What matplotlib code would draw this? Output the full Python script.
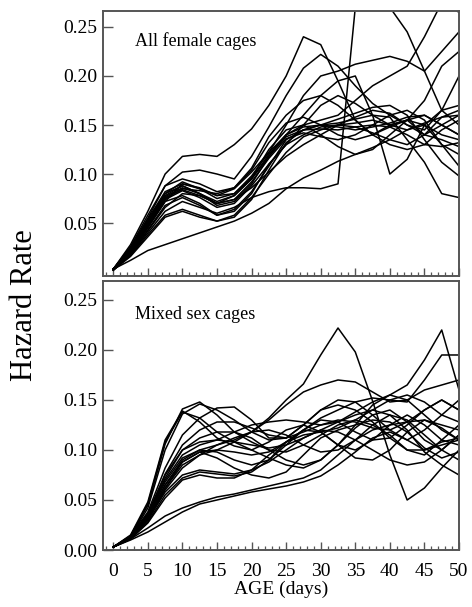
import matplotlib
matplotlib.use('Agg')
import matplotlib.pyplot as plt
from matplotlib.ticker import MultipleLocator

plt.rcParams['font.family'] = ['Liberation Serif', 'DejaVu Serif']

days = [0, 2.5, 5, 7.5, 10, 12.5, 15, 17.5, 20, 22.5, 25, 27.5, 30, 32.5, 35, 37.5, 40, 42.5, 45, 47.5, 50]

# All female cages
f01 = [0.003, 0.028, 0.062, 0.100, 0.118, 0.120, 0.118, 0.130, 0.146, 0.170, 0.200, 0.240, 0.232, 0.195, 0.155, 0.140, 0.148, 0.155, 0.140, 0.135, 0.128]
f02 = [0.002, 0.018, 0.040, 0.062, 0.072, 0.066, 0.060, 0.066, 0.076, 0.082, 0.086, 0.086, 0.085, 0.090, 0.270, 0.270, 0.270, 0.245, 0.205, 0.165, 0.150]
f03 = [0.003, 0.022, 0.050, 0.078, 0.088, 0.080, 0.072, 0.078, 0.095, 0.120, 0.140, 0.150, 0.155, 0.160, 0.175, 0.190, 0.200, 0.210, 0.240, 0.275, 0.265]
f04 = [0.003, 0.025, 0.055, 0.088, 0.102, 0.104, 0.100, 0.095, 0.118, 0.148, 0.180, 0.208, 0.222, 0.210, 0.190, 0.172, 0.160, 0.150, 0.145, 0.165, 0.200]
f05 = [0.003, 0.020, 0.045, 0.072, 0.090, 0.086, 0.078, 0.085, 0.102, 0.122, 0.150, 0.180, 0.200, 0.205, 0.212, 0.216, 0.220, 0.215, 0.205, 0.225, 0.245]
f06 = [0.003, 0.022, 0.050, 0.076, 0.084, 0.078, 0.070, 0.078, 0.095, 0.118, 0.140, 0.160, 0.180, 0.195, 0.200, 0.160, 0.100, 0.115, 0.150, 0.130, 0.120]
f07 = [0.003, 0.012, 0.022, 0.028, 0.034, 0.040, 0.046, 0.052, 0.060, 0.070, 0.085, 0.096, 0.104, 0.113, 0.120, 0.127, 0.135, 0.145, 0.152, 0.158, 0.160]
f08 = [0.003, 0.024, 0.052, 0.080, 0.092, 0.085, 0.075, 0.080, 0.098, 0.122, 0.140, 0.148, 0.150, 0.152, 0.156, 0.160, 0.158, 0.135, 0.112, 0.080, 0.076]
f09 = [0.003, 0.020, 0.046, 0.072, 0.078, 0.070, 0.058, 0.064, 0.082, 0.108, 0.135, 0.145, 0.150, 0.156, 0.162, 0.168, 0.170, 0.160, 0.135, 0.112, 0.098]
f10 = [0.003, 0.026, 0.058, 0.088, 0.095, 0.090, 0.082, 0.086, 0.104, 0.132, 0.152, 0.158, 0.150, 0.140, 0.135, 0.140, 0.150, 0.155, 0.150, 0.140, 0.135]
f11 = [0.002, 0.017, 0.038, 0.058, 0.064, 0.058, 0.052, 0.056, 0.074, 0.104, 0.132, 0.145, 0.150, 0.148, 0.145, 0.148, 0.152, 0.158, 0.160, 0.150, 0.140]
f12 = [0.003, 0.022, 0.050, 0.077, 0.086, 0.080, 0.068, 0.072, 0.090, 0.118, 0.138, 0.145, 0.146, 0.145, 0.148, 0.150, 0.148, 0.140, 0.130, 0.128, 0.132]
f13 = [0.002, 0.019, 0.043, 0.068, 0.076, 0.068, 0.058, 0.062, 0.080, 0.110, 0.130, 0.140, 0.148, 0.150, 0.152, 0.155, 0.150, 0.145, 0.150, 0.165, 0.170]
f14 = [0.003, 0.024, 0.054, 0.082, 0.090, 0.085, 0.078, 0.080, 0.096, 0.125, 0.145, 0.150, 0.140, 0.128, 0.120, 0.125, 0.140, 0.155, 0.160, 0.150, 0.140]
f15 = [0.002, 0.018, 0.042, 0.066, 0.080, 0.078, 0.070, 0.074, 0.086, 0.102, 0.118, 0.130, 0.140, 0.150, 0.158, 0.165, 0.162, 0.150, 0.140, 0.150, 0.160]
f16 = [0.003, 0.021, 0.048, 0.075, 0.085, 0.083, 0.080, 0.086, 0.106, 0.138, 0.160, 0.175, 0.180, 0.170, 0.155, 0.140, 0.130, 0.125, 0.130, 0.145, 0.155]
f17 = [0.002, 0.016, 0.036, 0.056, 0.062, 0.056, 0.052, 0.058, 0.076, 0.100, 0.122, 0.138, 0.145, 0.150, 0.148, 0.142, 0.135, 0.130, 0.140, 0.158, 0.165]
f18 = [0.003, 0.023, 0.052, 0.080, 0.088, 0.080, 0.070, 0.074, 0.092, 0.116, 0.136, 0.142, 0.138, 0.135, 0.140, 0.150, 0.160, 0.165, 0.155, 0.130, 0.108]
f19 = [0.003, 0.020, 0.047, 0.074, 0.083, 0.076, 0.066, 0.070, 0.088, 0.110, 0.130, 0.150, 0.170, 0.180, 0.172, 0.160, 0.150, 0.155, 0.175, 0.210, 0.225]
female = [f01, f02, f03, f04, f05, f06, f07, f08, f09, f10, f11, f12, f13, f14, f15, f16, f17, f18, f19]

# Mixed sex cages
m01 = [0.003, 0.015, 0.048, 0.110, 0.139, 0.128, 0.112, 0.104, 0.100, 0.108, 0.120, 0.125, 0.118, 0.105, 0.100, 0.110, 0.125, 0.135, 0.125, 0.110, 0.105]
m02 = [0.003, 0.014, 0.045, 0.106, 0.141, 0.148, 0.135, 0.118, 0.108, 0.100, 0.098, 0.105, 0.115, 0.125, 0.130, 0.125, 0.115, 0.100, 0.095, 0.110, 0.125]
m03 = [0.003, 0.013, 0.042, 0.100, 0.136, 0.146, 0.140, 0.130, 0.118, 0.110, 0.112, 0.125, 0.140, 0.150, 0.148, 0.135, 0.120, 0.110, 0.120, 0.135, 0.150]
m04 = [0.003, 0.014, 0.046, 0.108, 0.138, 0.132, 0.118, 0.108, 0.100, 0.092, 0.085, 0.082, 0.090, 0.105, 0.122, 0.135, 0.140, 0.128, 0.110, 0.100, 0.115]
m05 = [0.003, 0.012, 0.030, 0.062, 0.085, 0.095, 0.100, 0.108, 0.118, 0.132, 0.150, 0.166, 0.195, 0.222, 0.198, 0.149, 0.095, 0.050, 0.062, 0.082, 0.100]
m06 = [0.003, 0.013, 0.036, 0.075, 0.100, 0.108, 0.110, 0.108, 0.105, 0.102, 0.105, 0.112, 0.120, 0.128, 0.138, 0.148, 0.155, 0.165, 0.190, 0.220, 0.160]
m07 = [0.003, 0.012, 0.032, 0.065, 0.088, 0.098, 0.100, 0.098, 0.095, 0.098, 0.108, 0.120, 0.132, 0.140, 0.148, 0.152, 0.150, 0.148, 0.170, 0.195, 0.195]
m08 = [0.003, 0.010, 0.018, 0.028, 0.038, 0.046, 0.050, 0.054, 0.058, 0.061, 0.064, 0.068, 0.074, 0.085, 0.098, 0.112, 0.118, 0.110, 0.100, 0.105, 0.110]
m09 = [0.003, 0.011, 0.022, 0.034, 0.042, 0.048, 0.053, 0.056, 0.060, 0.064, 0.068, 0.072, 0.080, 0.095, 0.110, 0.120, 0.125, 0.128, 0.130, 0.125, 0.120]
m10 = [0.003, 0.012, 0.032, 0.065, 0.090, 0.100, 0.098, 0.090, 0.085, 0.090, 0.105, 0.120, 0.130, 0.128, 0.118, 0.110, 0.112, 0.125, 0.140, 0.150, 0.140]
m11 = [0.003, 0.012, 0.030, 0.060, 0.082, 0.095, 0.105, 0.112, 0.118, 0.120, 0.115, 0.105, 0.098, 0.100, 0.110, 0.125, 0.135, 0.130, 0.115, 0.100, 0.090]
m12 = [0.003, 0.013, 0.034, 0.070, 0.095, 0.105, 0.110, 0.118, 0.125, 0.128, 0.130, 0.128, 0.125, 0.128, 0.135, 0.140, 0.135, 0.120, 0.098, 0.085, 0.075]
m13 = [0.003, 0.011, 0.028, 0.055, 0.072, 0.078, 0.076, 0.074, 0.078, 0.090, 0.108, 0.120, 0.118, 0.105, 0.092, 0.090, 0.100, 0.118, 0.130, 0.122, 0.110]
m14 = [0.003, 0.012, 0.031, 0.062, 0.088, 0.098, 0.092, 0.082, 0.075, 0.072, 0.078, 0.095, 0.112, 0.120, 0.125, 0.130, 0.128, 0.118, 0.102, 0.092, 0.098]
m15 = [0.003, 0.013, 0.035, 0.072, 0.100, 0.112, 0.118, 0.118, 0.112, 0.100, 0.090, 0.085, 0.090, 0.105, 0.125, 0.145, 0.155, 0.150, 0.135, 0.120, 0.110]
m16 = [0.003, 0.012, 0.030, 0.058, 0.075, 0.080, 0.078, 0.076, 0.080, 0.088, 0.100, 0.112, 0.120, 0.118, 0.110, 0.100, 0.090, 0.085, 0.088, 0.100, 0.115]
m17 = [0.003, 0.014, 0.038, 0.082, 0.115, 0.132, 0.142, 0.143, 0.130, 0.112, 0.112, 0.125, 0.140, 0.145, 0.140, 0.128, 0.112, 0.100, 0.100, 0.108, 0.112]
m18 = [0.003, 0.011, 0.027, 0.052, 0.070, 0.075, 0.072, 0.072, 0.080, 0.095, 0.108, 0.115, 0.118, 0.122, 0.130, 0.140, 0.150, 0.155, 0.148, 0.135, 0.128]
m19 = [0.003, 0.013, 0.036, 0.076, 0.105, 0.120, 0.128, 0.128, 0.122, 0.115, 0.112, 0.118, 0.125, 0.130, 0.128, 0.122, 0.120, 0.128, 0.140, 0.150, 0.140]
m20 = [0.003, 0.012, 0.033, 0.068, 0.092, 0.100, 0.105, 0.110, 0.118, 0.130, 0.145, 0.158, 0.165, 0.170, 0.168, 0.158, 0.148, 0.150, 0.160, 0.165, 0.170]
mixed = [m01, m02, m03, m04, m05, m06, m07, m08, m09, m10, m11, m12, m13, m14, m15, m16, m17, m18, m19, m20]

y_ticks_top = [0.05, 0.10, 0.15, 0.20, 0.25]
y_ticks_bottom = [0.00, 0.05, 0.10, 0.15, 0.20, 0.25]
x_ticks = [0, 5, 10, 15, 20, 25, 30, 35, 40, 45, 50]

fig = plt.figure(figsize=(4.72, 6.07), dpi=100)
ax1 = fig.add_axes([0.218, 0.5453, 0.7545, 0.4366])
ax2 = fig.add_axes([0.218, 0.0939, 0.7545, 0.4432])

panels = [
    (ax1, female, 'All female cages', (-0.004, 0.2663), y_ticks_top, 0.887),
    (ax2, mixed, 'Mixed sex cages', (0.0, 0.269), y_ticks_bottom, 0.874),
]

for ax, curves, title, ylim, yt, ty in panels:
    for c in curves:
        ax.plot(days, c, color='black', lw=1.1)
    ax.set_xlim(-1.5, 49.9)
    ax.set_ylim(*ylim)
    ax.set_yticks(yt)
    ax.set_yticklabels(['%.2f' % v for v in yt])
    ax.set_xticks(x_ticks)
    ax.xaxis.set_minor_locator(MultipleLocator(1))
    ax.tick_params(axis='y', direction='in', length=7, width=1.0, labelsize=14, pad=4, color='#555555')
    ax.tick_params(axis='x', which='major', direction='in', length=6, width=1.0, labelsize=14, pad=9, color='#555555')
    ax.tick_params(axis='x', which='minor', direction='in', length=3, width=0.9, color='#555555')
    for s in ax.spines.values():
        s.set_color('#555555')
        s.set_linewidth(1.4)
    ax.text(0.09, ty, title, transform=ax.transAxes, fontsize=13, va='center', ha='left')

ax1.tick_params(axis='x', labelbottom=False)

fig.text(0.051, 0.4975, 'Hazard Rate', rotation=90, fontsize=22, ha='center', va='center')
fig.text(0.596, 0.029, 'AGE (days)', fontsize=14, ha='center', va='center')

plt.savefig('out.png', dpi=100)
